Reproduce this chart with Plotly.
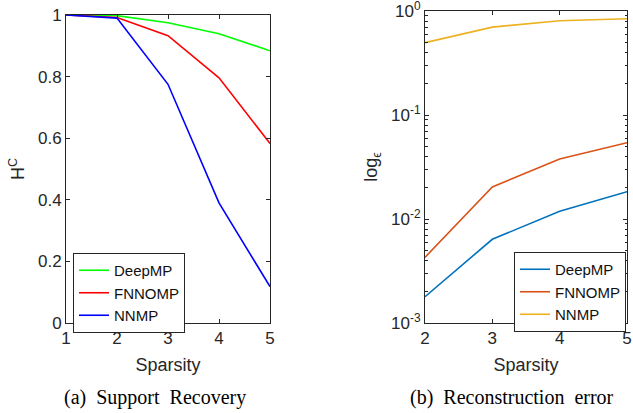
import plotly.graph_objects as go

sparsity_a = [1, 2, 3, 4, 5]
deepmp_a = [1.0, 0.998, 0.975, 0.939, 0.884]
fnnomp_a = [1.0, 0.992, 0.933, 0.796, 0.583]
nnmp_a = [1.0, 0.990, 0.775, 0.390, 0.118]

sparsity_b = [2, 3, 4, 5]
deepmp_b = [0.00179, 0.00638, 0.0119, 0.0183]
fnnomp_b = [0.00428, 0.0203, 0.0378, 0.0542]
nnmp_b = [0.496, 0.70, 0.807, 0.843]

log_ticks = [0.001, 0.01, 0.1, 1]
log_ticktext = ["10<sup>-3</sup>", "10<sup>-2</sup>", "10<sup>-1</sup>", "10<sup>0</sup>"]

W, H = 633, 413
def px_x(p): return p / W
def px_y(p): return (H - p) / H

fig = go.Figure()
lw = 1.6
fig.add_trace(go.Scatter(x=sparsity_a, y=deepmp_a, name="DeepMP", mode="lines",
                         line=dict(color="#00FF00", width=lw), xaxis="x", yaxis="y", legend="legend"))
fig.add_trace(go.Scatter(x=sparsity_a, y=fnnomp_a, name="FNNOMP", mode="lines",
                         line=dict(color="#FF0000", width=lw), xaxis="x", yaxis="y", legend="legend"))
fig.add_trace(go.Scatter(x=sparsity_a, y=nnmp_a, name="NNMP", mode="lines",
                         line=dict(color="#0000FF", width=lw), xaxis="x", yaxis="y", legend="legend"))

fig.add_trace(go.Scatter(x=sparsity_b, y=deepmp_b, name="DeepMP", mode="lines",
                         line=dict(color="#0072BD", width=lw), xaxis="x2", yaxis="y2", legend="legend2"))
fig.add_trace(go.Scatter(x=sparsity_b, y=fnnomp_b, name="FNNOMP", mode="lines",
                         line=dict(color="#D95319", width=lw), xaxis="x2", yaxis="y2", legend="legend2"))
fig.add_trace(go.Scatter(x=sparsity_b, y=nnmp_b, name="NNMP", mode="lines",
                         line=dict(color="#EDB120", width=lw), xaxis="x2", yaxis="y2", legend="legend2"))

axc = "#262626"
tickfont = dict(family="Liberation Sans, Arial", size=17, color=axc)
common = dict(showline=True, linecolor=axc, linewidth=1, mirror="ticks", ticks="inside",
              ticklen=4, tickcolor=axc, showgrid=False, zeroline=False, tickfont=tickfont,
              automargin=False, ticklabeloverflow="allow")
tfont = dict(family="Liberation Sans, Arial", size=18, color=axc)
capfont = dict(family="Liberation Serif, Times New Roman", size=20, color="#000000")

fig.update_layout(
    width=W, height=H, margin=dict(l=0, r=0, t=0, b=0, autoexpand=False),
    paper_bgcolor="white", plot_bgcolor="white",
    font=dict(family="Liberation Sans, Arial", size=15, color=axc),
    xaxis=dict(domain=[px_x(66), px_x(270)], range=[1, 5], dtick=1, anchor="y",
               title=dict(text="Sparsity", font=tfont, standoff=10), **common),
    yaxis=dict(domain=[px_y(323), px_y(15)], range=[0, 1], dtick=0.2, anchor="x",
               title=dict(text="H<sup>C</sup>", font=tfont, standoff=8), **common),
    xaxis2=dict(domain=[px_x(425), px_x(627)], range=[2, 5], dtick=1, anchor="y2",
                title=dict(text="Sparsity", font=tfont, standoff=10), **common),
    yaxis2=dict(domain=[px_y(323), px_y(11)], type="log", range=[-3, 0], anchor="x2",
                tickmode="array", tickvals=log_ticks, ticktext=log_ticktext,
                minor=dict(ticks="inside", ticklen=2.5, tickcolor=axc, dtick="D1", showgrid=False),
                title=dict(text="log<sub>ϵ</sub>", font=tfont, standoff=8), **common),
    legend=dict(x=px_x(73), y=px_y(253), xanchor="left", yanchor="top",
                bordercolor=axc, borderwidth=1, bgcolor="white",
                font=dict(size=15, color="#111111"), tracegroupgap=0, itemwidth=30),
    legend2=dict(x=px_x(626), y=px_y(252), xanchor="right", yanchor="top",
                 bordercolor=axc, borderwidth=1, bgcolor="white",
                 font=dict(size=15, color="#111111"), tracegroupgap=0, itemwidth=30),
    annotations=[
        dict(text="(a)  Support  Recovery", x=px_x(155), y=px_y(397), xref="paper", yref="paper",
             xanchor="center", yanchor="middle", showarrow=False, font=capfont),
        dict(text="(b)  Reconstruction  error", x=px_x(512), y=px_y(397), xref="paper", yref="paper",
             xanchor="center", yanchor="middle", showarrow=False, font=capfont),
    ],
)

fig.write_html("out.html", config={"displayModeBar": False},
               post_script="document.body.style.margin='0';document.body.style.overflow='hidden';")
